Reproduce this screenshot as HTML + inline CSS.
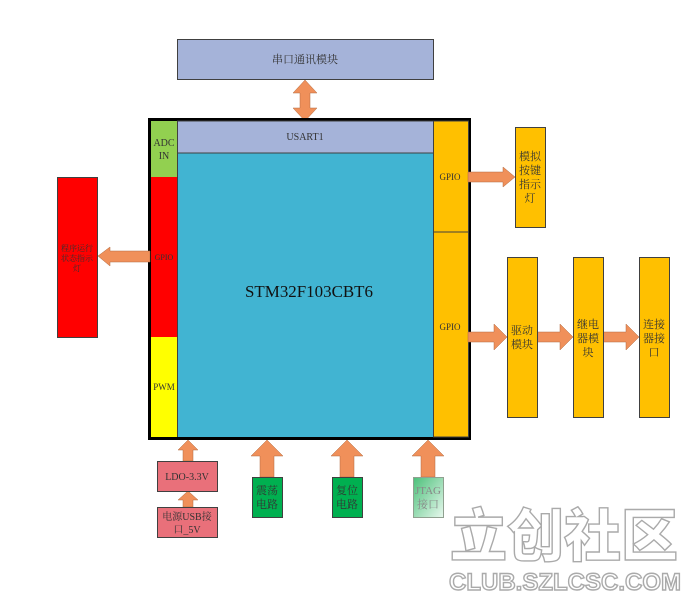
<!DOCTYPE html>
<html><head><meta charset="utf-8"><style>
body{margin:0;background:#fff;}
svg text{font-family:"Liberation Serif","Noto Serif CJK SC","Noto Sans CJK SC",serif;}
</style></head><body>
<svg width="696" height="600" viewBox="0 0 696 600" xmlns="http://www.w3.org/2000/svg">
<defs><linearGradient id="jt" x1="0" y1="0" x2="1" y2="1"><stop offset="0" stop-color="#4cc07a"/><stop offset="1" stop-color="#e8f8ee"/></linearGradient></defs>
<g stroke="#404040" stroke-width="1">
<rect x="177.5" y="39.5" width="256" height="40" fill="#A5B3D9"/>
</g>
<text x="305" y="63" font-size="11" text-anchor="middle" fill="#333">串口通讯模块</text>
<polygon points="305,80 317,93 310,93 310,108 317,108 305,121 293,108 300,108 300,93 293,93" fill="#F0905A" stroke="#b06a40" stroke-width="0.5"/>
<rect x="149.5" y="119.5" width="320" height="319" fill="#41B4D2" stroke="#000" stroke-width="3"/>
<rect x="151" y="121" width="26" height="56" fill="#92D050"/>
<rect x="151" y="177" width="26" height="160" fill="#FF0000"/>
<rect x="151" y="337" width="26" height="100" fill="#FFFF00"/>
<line x1="177.5" y1="121" x2="177.5" y2="437" stroke="#404040"/>
<rect x="177.5" y="121" width="256" height="32" fill="#A5B3D9" stroke="#404040"/>
<rect x="433.5" y="121" width="35" height="111" fill="#FFC000" stroke="#404040"/>
<rect x="433.5" y="232" width="35" height="205" fill="#FFC000" stroke="#404040"/>
<text x="164" y="146" font-size="10" text-anchor="middle" fill="#333">ADC</text>
<text x="164" y="159" font-size="10" text-anchor="middle" fill="#333">IN</text>
<text x="164" y="260" font-size="8" text-anchor="middle" fill="#333">GPIO</text>
<text x="164" y="390" font-size="9" text-anchor="middle" fill="#333">PWM</text>
<text x="305" y="140" font-size="10" text-anchor="middle" fill="#333">USART1</text>
<text x="309" y="297" font-size="17" text-anchor="middle" fill="#111" textLength="128" lengthAdjust="spacingAndGlyphs">STM32F103CBT6</text>
<text x="450" y="180" font-size="9" text-anchor="middle" fill="#333">GPIO</text>
<text x="450" y="330" font-size="9" text-anchor="middle" fill="#333">GPIO</text>
<rect x="57.5" y="177.5" width="40" height="160" fill="#FF0000" stroke="#404040"/>
<text x="77" y="251" font-size="8" text-anchor="middle" fill="#333">程序运行</text>
<text x="77" y="261" font-size="8" text-anchor="middle" fill="#333">状态指示</text>
<text x="77" y="271" font-size="8" text-anchor="middle" fill="#333">灯</text>
<polygon points="98,256 110,247 110,251 150,251 150,262 110,262 110,266" fill="#F0905A" stroke="#b06a40" stroke-width="0.5"/>
<polygon points="468,172 503,172 503,167 515,177 503,187 503,182 468,182" fill="#F0905A" stroke="#b06a40" stroke-width="0.5"/>
<polygon points="468,332 494,332 494,324 507,337 494,350 494,342 468,342" fill="#F0905A" stroke="#b06a40" stroke-width="0.5"/>
<polygon points="537,332 560,332 560,324 573,337 560,350 560,342 537,342" fill="#F0905A" stroke="#b06a40" stroke-width="0.5"/>
<polygon points="603,332 626,332 626,324 639,337 626,350 626,342 603,342" fill="#F0905A" stroke="#b06a40" stroke-width="0.5"/>
<g stroke="#404040" fill="#FFC000">
<rect x="515.5" y="127.5" width="30" height="100"/>
<rect x="507.5" y="257.5" width="30" height="160"/>
<rect x="573.5" y="257.5" width="30" height="160"/>
<rect x="639.5" y="257.5" width="30" height="160"/>
</g>
<g font-size="11" text-anchor="middle" fill="#333">
<text x="530" y="160">模拟</text><text x="530" y="174">按键</text><text x="530" y="188">指示</text><text x="530" y="202">灯</text>
<text x="522" y="334">驱动</text><text x="522" y="348">模块</text>
<text x="588" y="328">继电</text><text x="588" y="342">器模</text><text x="588" y="356">块</text>
<text x="654" y="328">连接</text><text x="654" y="342">器接</text><text x="654" y="356">口</text>
</g>
<polygon points="188,440 198,450 193,450 193,461 183,461 183,450 178,450" fill="#F0905A" stroke="#b06a40" stroke-width="0.5"/>
<polygon points="188,491 198,500 193,500 193,507 183,507 183,500 178,500" fill="#F0905A" stroke="#b06a40" stroke-width="0.5"/>
<g stroke="#404040" fill="#E9707A">
<rect x="157.5" y="461.5" width="60" height="30"/>
<rect x="157.5" y="507.5" width="60" height="30"/>
</g>
<text x="187" y="480" font-size="10" text-anchor="middle" fill="#333">LDO-3.3V</text>
<text x="187" y="520" font-size="10" text-anchor="middle" fill="#333">电源USB接</text>
<text x="187" y="533" font-size="10" text-anchor="middle" fill="#333">口_5V</text>
<polygon points="267,440 283,456 274,456 274,477 260,477 260,456 251,456" fill="#F0905A" stroke="#b06a40" stroke-width="0.5"/>
<polygon points="347,440 363,456 354,456 354,477 340,477 340,456 331,456" fill="#F0905A" stroke="#b06a40" stroke-width="0.5"/>
<polygon points="428,440 444,456 435,456 435,477 421,477 421,456 412,456" fill="#F0905A" stroke="#b06a40" stroke-width="0.5"/>
<rect x="252.5" y="477.5" width="30" height="40" fill="#00B050" stroke="#404040"/>
<rect x="332.5" y="477.5" width="30" height="40" fill="#00B050" stroke="#404040"/>
<rect x="413.5" y="477.5" width="30" height="40" fill="url(#jt)" stroke="#90a090"/>
<g font-size="11" text-anchor="middle" fill="#333">
<text x="267" y="494">震荡</text><text x="267" y="508">电路</text>
<text x="347" y="494">复位</text><text x="347" y="508">电路</text>
<text x="428" y="494" fill="#888">JTAG</text><text x="428" y="508" fill="#888">接口</text>
</g>
<g fill="#fff" stroke="#aaa" stroke-width="1.4">
<text x="564" y="556" font-size="57" text-anchor="middle" style="font-family:'Noto Sans CJK SC',sans-serif;font-weight:900">立创社区</text>
<text x="565" y="590" font-size="24" text-anchor="middle" style="font-family:'Liberation Sans',sans-serif;font-weight:bold">CLUB.SZLCSC.COM</text>
</g>
</svg>
</body></html>
